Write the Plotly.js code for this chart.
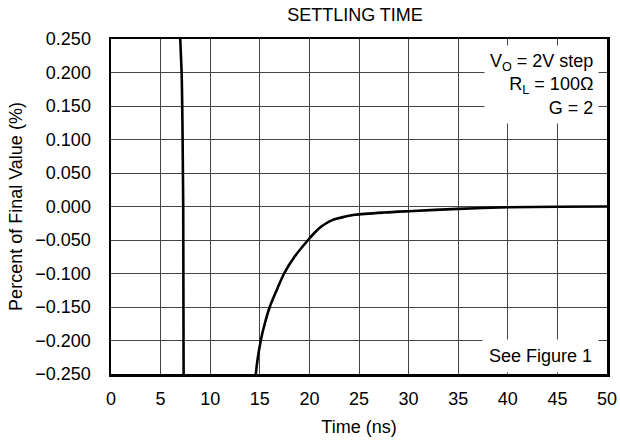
<!DOCTYPE html>
<html>
<head>
<meta charset="utf-8">
<script src="https://cdn.plot.ly/plotly-3.0.1.min.js"></script>
<style>html,body{margin:0;padding:0;background:#fff;}#chart{width:620px;height:442px;}</style>
</head>
<body>
<div id="chart"></div>
<script>
// Settling time curve (percent of final value vs time in ns); null breaks the off-scale excursion
const timeNs = [6.95, 6.98, 7.12, 7.18, 7.22, 7.25, 7.28, 7.32, 7.34, null,
  14.55, 14.6, 15.1, 15.5, 16.0, 16.7, 17.45, 18.5, 19.87, 20.6, 21.2, 21.7, 22.2, 22.8, 23.5, 24.6, 27.5, 30.0, 35.0, 40.0, 45.0, 50.0];
const percentFinal = [0.27, 0.25, 0.20, 0.15, 0.10, 0.05, 0.0, -0.25, -0.27, null,
  -0.27, -0.25, -0.20, -0.175, -0.15, -0.125, -0.10, -0.075, -0.05, -0.038, -0.030, -0.025, -0.021, -0.018, -0.0155, -0.0124, -0.009, -0.007, -0.0035, -0.0012, -0.0003, 0.0];
const xTicks = [0, 5, 10, 15, 20, 25, 30, 35, 40, 45, 50];
const yTicks = [0.25, 0.2, 0.15, 0.1, 0.05, 0, -0.05, -0.1, -0.15, -0.2, -0.25];
const conditionsText = "V<sub>O</sub> = 2V step<br>R<sub>L</sub> = 100Ω<br>G = 2";
const noteText = "See Figure 1";

const font = {family: "Liberation Sans, Arial, sans-serif", size: 18, color: "#000"};

Plotly.newPlot("chart", [{
  x: timeNs, y: percentFinal, type: "scatter", mode: "lines",
  line: {color: "#000", width: 2.6, shape: "spline", smoothing: 0.8},
  connectgaps: false, hoverinfo: "skip"
}], {
  width: 620, height: 442,
  margin: {l: 111, r: 12.5, t: 39, b: 68},
  paper_bgcolor: "#fff", plot_bgcolor: "#fff",
  font: font,
  showlegend: false,
  title: {text: "SETTLING TIME", font: font, x: 0.5726, xanchor: "center", y: 0.966, yanchor: "middle"},
  xaxis: {
    range: [0, 50], tickvals: xTicks, ticktext: xTicks.map(String),
    showgrid: true, gridcolor: "#444", gridwidth: 1,
    zeroline: false, showline: true, linecolor: "#000", linewidth: 2.5, mirror: true,
    ticks: "", ticklabelstandoff: 7, tickfont: font, automargin: false,
    title: {text: "Time (ns)", font: font, standoff: 13}
  },
  yaxis: {
    range: [-0.25, 0.25], tickvals: yTicks, tickformat: ".3f",
    showgrid: true, gridcolor: "#444", gridwidth: 1,
    zeroline: false, showline: true, linecolor: "#000", linewidth: 2.5, mirror: true,
    ticks: "", ticklabelstandoff: 14, tickfont: font, automargin: false,
    title: {text: "Percent of Final Value (%)", font: font, standoff: 8}
  },
  annotations: [
    {text: conditionsText, xref: "paper", yref: "paper", x: 0.983, y: 0.982, xanchor: "right", yanchor: "top",
     align: "right", showarrow: false, bgcolor: "#fff", borderpad: 5, font: font},
    {text: noteText, xref: "paper", yref: "paper", x: 0.983, y: 0.004, xanchor: "right", yanchor: "bottom",
     align: "right", showarrow: false, bgcolor: "#fff", borderpad: 6, font: font}
  ]
}, {staticPlot: true});
</script>
</body>
</html>
